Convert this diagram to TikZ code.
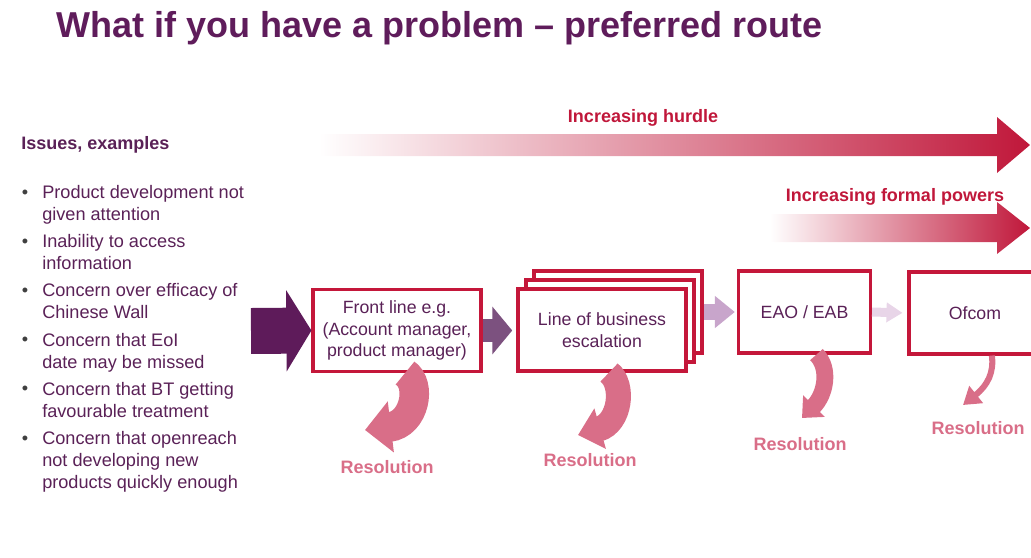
\documentclass[tikz,border=0pt]{standalone}
\usepackage{fontspec}
\setmainfont{Liberation Sans}
\usetikzlibrary{arrows.meta, positioning}
\definecolor{titlepurple}{HTML}{5F1C5B}
\definecolor{textpurple}{HTML}{5A2157}
\definecolor{boxred}{HTML}{C4173A}
\definecolor{hurdlered}{HTML}{C0173A}
\definecolor{respink}{HTML}{D96E88}
\definecolor{bulletgray}{HTML}{404040}
\definecolor{flowa}{HTML}{5E1B5A}
\definecolor{flowb}{HTML}{7C517F}
\definecolor{flowc}{HTML}{C8A5CB}
\definecolor{flowd}{HTML}{E8D5E8}

\begin{document}
\begin{tikzpicture}[
    x=0.025cm, y=-0.025cm,
    every node/.style={inner sep=0pt},
    body/.style={font=\fontsize{12.9}{15.65}\selectfont, text=textpurple, align=left},
    heading/.style={font=\bfseries\fontsize{12.8}{15.6}\selectfont},
    stage/.style={rectangle, draw=boxred, line width=2.2pt, fill=white, minimum height=2.05cm,
                  align=center, font=\fontsize{12.6}{15.3}\selectfont, text=textpurple},
    reslabel/.style={heading, text=respink},
    flow/.style={line cap=butt, shorten >=#1},
    resarrow/.style={draw=respink, line cap=butt}
]
\useasboundingbox (0,0) rectangle (1031,558);

% title and issue list
\node[anchor=base west, font=\bfseries\fontsize{25.6}{30}\selectfont, text=titlepurple] (title) at (56,38)
    {What if you have a problem – preferred route};
\node[heading, text=textpurple, anchor=west] (issues) at (21,145) {Issues, examples};
\foreach \issue [count=\i from 0] in {Product development not\\given attention, Inability to access\\information,
    Concern over efficacy of\\Chinese Wall, Concern that EoI\\date may be missed,
    Concern that BT getting\\favourable treatment, Concern that openreach\\not developing new\\products quickly enough}
{
  \node[body, text=bulletgray, anchor=base] (dot\i) at (25,198+49.2*\i) {•};
  \node[body, anchor=north west] (item\i) at (42,185+49.2*\i) {\issue};
}

% increasing arrows
\shade[left color=white, middle color=hurdlered!28, right color=hurdlered]
  (319,134) -- (997,134) -- (997,117) -- (1030,145) -- (997,173) -- (997,156) -- (319,156) -- cycle;
\node[heading, text=hurdlered] (hurdle) at (643,118) {Increasing hurdle};
\shade[left color=white, middle color=hurdlered!28, right color=hurdlered]
  (770,214) -- (997,214) -- (997,202) -- (1030,228) -- (997,254) -- (997,242) -- (770,242) -- cycle;
\node[heading, text=hurdlered] (powers) at (895,197) {Increasing formal powers};

% stages
\node[stage, minimum width=4.2cm] (front) at (397,330.5)
    {Front line e.g.\\(Account manager,\\product manager)};
\node[stage, minimum width=4.2cm] (lob3) at (618,312) {};
\node[stage, minimum width=4.2cm] (lob2) at (610,321) {};
\node[stage, minimum width=4.2cm] (lob) at (602,330) {Line of business\\escalation};
\node[stage, minimum width=3.3cm] (eao) at (804.5,312) {EAO / EAB};
\node[stage, minimum width=3.3cm] (ofcom) at (975,313) {Ofcom};

% flow between stages
\coordinate (src) at (251,331);
\draw[flow=0pt, flowa, line width=32.7pt, -{Triangle[length=17.8pt, width=57pt]}] (src) -- (front.west);
\draw[flow=3pt, flowb, line width=16.4pt, -{Triangle[length=14.2pt, width=33.4pt]}] (front.east) -- (front.east -| lob.west);
\draw[flow=1.5pt, flowc, line width=10.7pt, -{Triangle[length=14.2pt, width=22pt]}] (lob3.east) -- (eao.west);
\draw[flow=3.5pt, flowd, line width=6.4pt, -{Triangle[length=11.4pt, width=13.5pt]}] (eao.east) -- (ofcom.west);

% resolution
\node[reslabel] (res1) at (387,467) {Resolution};
\node[reslabel] (res2) at (590,460) {Resolution};
\node[reslabel] (res3) at (800,444) {Resolution};
\node[reslabel] (res4) at (978,428) {Resolution};
\coordinate (tip1) at (365,430);
\coordinate (tip2) at (578,435);
\coordinate (tip3) at (802,418);
\coordinate (tip4) at (963,405);
\draw[resarrow, line width=21pt, -{Triangle[length=18.5pt, width=35.5pt]}]
  ([xshift=5.7pt]front.south) .. controls (422,384) and (415,424) .. (tip1);
\draw[resarrow, line width=17.8pt, -{Triangle[length=16.4pt, width=29pt]}]
  ([xshift=5pt]lob.south) .. controls (625,385) and (620,423) .. (tip2);
\draw[resarrow, line width=12pt, -{Triangle[length=12pt, width=21pt]}]
  ([xshift=8.5pt]eao.south) .. controls (830,368) and (826,394) .. (tip3);
\draw[resarrow, line width=4.3pt, -{Triangle[length=12pt, width=15pt]}]
  ([xshift=12pt]ofcom.south) .. controls (994,372) and (988,385) .. (tip4);
\end{tikzpicture}
\end{document}
